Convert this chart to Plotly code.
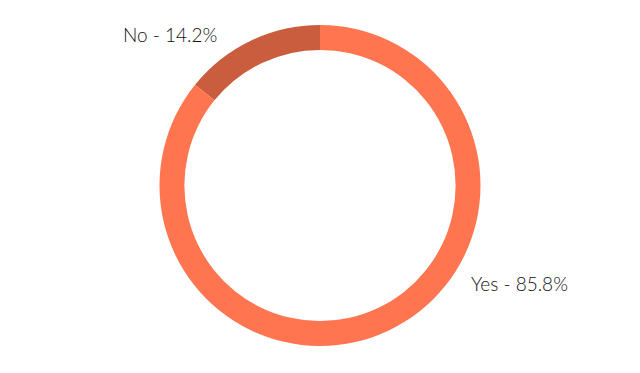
import plotly.graph_objects as go

labels = ["No", "Yes"]
values = [14.2, 85.8]
colors = ["#C95D3D", "#FF7550"]

fig = go.Figure(go.Pie(
    labels=labels,
    values=values,
    hole=0.845,
    sort=False,
    direction="clockwise",
    rotation=-values[0] / 100 * 360,
    marker=dict(colors=colors, line=dict(width=0)),
    textinfo="none",
    hoverinfo="label+percent",
    showlegend=False,
    domain=dict(x=[0, 1], y=[27 / 373, 348 / 373]),
))

label_pos = [(170, 34), (519, 283)]
for (lab, val), (px, py) in zip(zip(labels, values), label_pos):
    fig.add_annotation(
        x=px / 640, y=1 - py / 373, xref="paper", yref="paper",
        text=f"{lab} - {val}%", showarrow=False,
        font=dict(family="Lato", size=19, color="#111111", weight=300),
        xanchor="center", yanchor="middle",
    )

fig.update_layout(
    width=640, height=373,
    margin=dict(l=0, r=0, t=0, b=0),
    paper_bgcolor="white", plot_bgcolor="white",
)
fig.write_html("out.html")
